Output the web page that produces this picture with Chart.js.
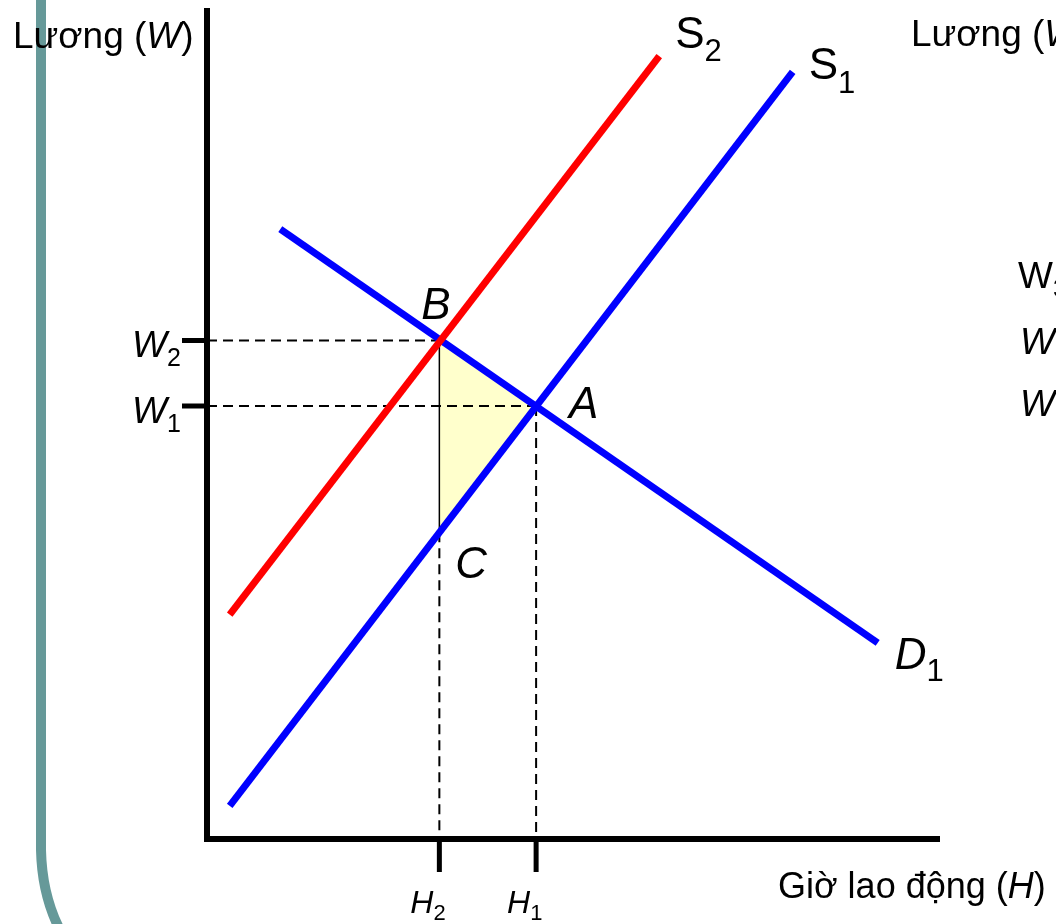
<!DOCTYPE html>
<html>
<head>
<meta charset="utf-8">
<script src="https://cdn.jsdelivr.net/npm/chart.js@4.4.0/dist/chart.umd.min.js"></script>
<style>
  html, body { margin: 0; padding: 0; background: #fff; }
  #wrap { width: 1056px; height: 924px; position: relative; }
</style>
</head>
<body>
<div id="wrap"><canvas id="chart_labour"></canvas></div>
<script>
// duong cung / cau (don vi tuong doi, truc 0..100)
var supplyS1 = [[3.1, 4.0], [79.9, 92.3]]
var supplyS2 = [[3.1, 27.0], [61.7, 94.2]]
var demandD1 = [[10.0, 73.4], [91.5, 23.6]]
var pointA = [44.9, 52.1]
var pointB = [31.7, 60.0]
var pointC = [31.7, 36.9]
var wageNames = ['W', 'W']
var wageSubs = ['2', '1']
var wageValues = [60.0, 52.1]
var hourNames = ['H', 'H']
var hourSubs = ['2', '1']
var hourValues = [31.7, 44.9]
var axisMax = 100
var FONT = '"Liberation Sans", Arial, sans-serif'

function pts(arr) {
    return arr.map(function(p) { return {x: p[0], y: p[1]} })
}

function txt(ctx, main, sub, x, y, size, subSize, italic, subDy) {
    ctx.font = (italic ? 'italic ' : '') + size + 'px ' + FONT
    ctx.fillText(main, x, y)
    var w = ctx.measureText(main).width
    if (sub) {
        ctx.font = subSize + 'px ' + FONT
        ctx.fillText(sub, x + w, y + subDy)
    }
    return x + w
}

var decor = {
    id: 'decor',
    beforeDraw: function(chart) {
        var ctx = chart.ctx
        ctx.save()
        ctx.fillStyle = '#fff'
        ctx.fillRect(0, 0, chart.width, chart.height)
        // vien trang chieu
        ctx.strokeStyle = '#669999'
        ctx.lineWidth = 10
        ctx.beginPath()
        ctx.moveTo(41, -5)
        ctx.lineTo(41, 850)
        ctx.quadraticCurveTo(42, 895, 60, 930)
        ctx.stroke()
        ctx.restore()
    },
    afterDatasetsDraw: function(chart) {
        var ctx = chart.ctx
        var xs = chart.scales.x, ys = chart.scales.y
        var x0 = xs.getPixelForValue(0), y0 = ys.getPixelForValue(0)
        var xEnd = xs.getPixelForValue(axisMax), yEnd = ys.getPixelForValue(axisMax)
        ctx.save()
        // truc
        ctx.strokeStyle = '#000'
        ctx.lineCap = 'butt'
        ctx.lineWidth = 6
        ctx.beginPath()
        ctx.moveTo(x0, y0 + 3)
        ctx.lineTo(x0, yEnd)
        ctx.moveTo(x0 - 3, y0)
        ctx.lineTo(xEnd, y0)
        ctx.stroke()
        // vach chia
        ctx.lineWidth = 5
        ctx.beginPath()
        wageValues.forEach(function(v) {
            var py = ys.getPixelForValue(v)
            ctx.moveTo(x0 - 25, py)
            ctx.lineTo(x0, py)
        })
        hourValues.forEach(function(v) {
            var px = xs.getPixelForValue(v)
            ctx.moveTo(px, y0)
            ctx.lineTo(px, y0 + 33)
        })
        ctx.stroke()

        ctx.fillStyle = '#000'
        ctx.textBaseline = 'alphabetic'
        wageValues.forEach(function(v, i) {
            var py = ys.getPixelForValue(v)
            txt(ctx, wageNames[i], wageSubs[i], x0 - 75, py + 17, 37, 25, true, 9)
        })
        hourValues.forEach(function(v, i) {
            var px = xs.getPixelForValue(v)
            txt(ctx, hourNames[i], hourSubs[i], px - 29, y0 + 74, 32, 22, true, 7)
        })

        // ten duong
        var s2 = supplyS2[1], s1 = supplyS1[1], d1 = demandD1[1]
        txt(ctx, 'S', '2', xs.getPixelForValue(s2[0]) + 16, ys.getPixelForValue(s2[1]) - 8, 44, 31, false, 13)
        txt(ctx, 'S', '1', xs.getPixelForValue(s1[0]) + 16, ys.getPixelForValue(s1[1]) + 7, 44, 31, false, 14)
        txt(ctx, 'D', '1', xs.getPixelForValue(d1[0]) + 17, ys.getPixelForValue(d1[1]) + 26, 44, 31, true, 12)

        ctx.font = 'italic 44px ' + FONT
        ctx.fillText('B', xs.getPixelForValue(pointB[0]) - 18, ys.getPixelForValue(pointB[1]) - 21)
        ctx.fillText('A', xs.getPixelForValue(pointA[0]) + 33, ys.getPixelForValue(pointA[1]) + 12)
        ctx.fillText('C', xs.getPixelForValue(pointC[0]) + 16, ys.getPixelForValue(pointC[1]) + 46)

        // tieu de truc
        var nx = txt(ctx, 'Lương (', null, 13, 48, 37, 0, false, 0)
        nx = txt(ctx, 'W', null, nx, 48, 37, 0, true, 0)
        txt(ctx, ')', null, nx, 48, 37, 0, false, 0)

        nx = txt(ctx, 'Giờ lao động (', null, 778, 898, 36, 0, false, 0)
        nx = txt(ctx, 'H', null, nx, 898, 36, 0, true, 0)
        txt(ctx, ')', null, nx, 898, 36, 0, false, 0)

        // do thi ben phai (bi cat)
        nx = txt(ctx, 'Lương (', null, 911, 46, 37, 0, false, 0)
        txt(ctx, 'W', null, nx, 46, 37, 0, true, 0)
        txt(ctx, 'W', '3', 1018, 288, 37, 25, false, 9)
        txt(ctx, 'W', '2', 1020, 354, 37, 25, true, 9)
        txt(ctx, 'W', '1', 1020, 416, 37, 25, true, 9)
        ctx.restore()
    }
}

var ctx = document.getElementById('chart_labour')

var chartLabour = new Chart(ctx, {
    type: 'scatter',
    data: {
        datasets: [
            {
                label: 'S2',
                data: pts(supplyS2),
                showLine: true,
                borderColor: '#ff0000',
                borderWidth: 7,
                pointRadius: 0,
                clip: false
            },
            {
                label: 'S1',
                data: pts(supplyS1),
                showLine: true,
                borderColor: '#0000ff',
                borderWidth: 7,
                pointRadius: 0,
                clip: false
            },
            {
                label: 'D1',
                data: pts(demandD1),
                showLine: true,
                borderColor: '#0000ff',
                borderWidth: 7,
                pointRadius: 0,
                clip: false
            },
            {
                label: 'W2',
                data: pts([[0, pointB[1]], pointB]),
                showLine: true,
                borderColor: '#000',
                borderWidth: 2,
                borderDash: [10, 6],
                pointRadius: 0
            },
            {
                label: 'W1',
                data: pts([[0, pointA[1]], pointA]),
                showLine: true,
                borderColor: '#000',
                borderWidth: 2,
                borderDash: [10, 6],
                pointRadius: 0
            },
            {
                label: 'H1',
                data: pts([pointA, [pointA[0], 0]]),
                showLine: true,
                borderColor: '#000',
                borderWidth: 2,
                borderDash: [10, 6],
                pointRadius: 0
            },
            {
                label: 'H2',
                data: pts([pointC, [pointC[0], 0]]),
                showLine: true,
                borderColor: '#000',
                borderWidth: 2,
                borderDash: [10, 6],
                pointRadius: 0
            },
            {
                label: 'BC',
                data: pts([pointB, pointC]),
                showLine: true,
                borderColor: '#000',
                borderWidth: 1.5,
                pointRadius: 0
            },
            {
                label: 'tam giac',
                data: pts([pointB, pointA, pointC, pointB]),
                showLine: true,
                fill: 'shape',
                backgroundColor: '#ffffcc',
                borderWidth: 0,
                borderColor: 'rgba(0,0,0,0)',
                pointRadius: 0
            }
        ]
    },
    options: {
        responsive: true,
        maintainAspectRatio: false,
        animation: false,
        layout: {
            padding: {left: 207, right: 116, top: 8, bottom: 85}
        },
        plugins: {
            legend: {display: false},
            tooltip: {enabled: false}
        },
        scales: {
            x: {type: 'linear', min: 0, max: axisMax, display: false},
            y: {type: 'linear', min: 0, max: axisMax, display: false}
        }
    },
    plugins: [decor]
})
</script>
</body>
</html>
